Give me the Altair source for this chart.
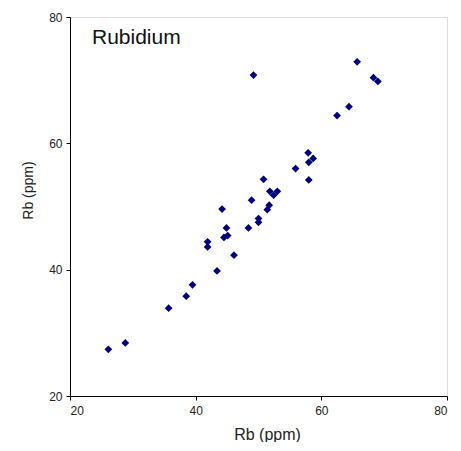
import altair as alt
import pandas as pd

x_vals = [26.1, 28.8, 35.7, 38.5, 39.5, 43.4, 46.1, 41.9, 41.9, 44.5, 45.1, 44.9,
          44.2, 48.4, 50.0, 50.0, 51.4, 51.7, 48.9, 50.8, 51.8, 52.4, 53.0, 55.9,
          57.9, 58.0, 58.7, 58.0, 65.7, 68.3, 69.0, 64.4, 62.5, 49.2]
y_vals = [27.4, 28.4, 33.9, 35.8, 37.6, 39.8, 42.3, 44.4, 43.6, 45.1, 45.4, 46.6,
          49.6, 46.6, 48.1, 47.5, 49.5, 50.2, 51.0, 54.3, 52.4, 51.8, 52.4, 56.0,
          58.5, 57.0, 57.6, 54.2, 72.9, 70.4, 69.8, 65.8, 64.4, 70.8]
ticks = [20, 40, 60, 80]

df = pd.DataFrame({"x": x_vals, "y": y_vals})

FONT = "Liberation Sans"

axis_common = dict(
    values=ticks, grid=False, domainColor="#000000", tickColor="#000000",
    tickSize=4, labelFont=FONT, labelFontSize=12, labelColor="#222222",
    titleFont=FONT, titleFontWeight="normal", titleColor="#222222",
    titleAlign="center", titleBaseline="middle",
)

points = alt.Chart(df).mark_point(
    shape="diamond", filled=True, size=60, color="#000080", opacity=1
).encode(
    x=alt.X("x:Q", scale=alt.Scale(domain=[20, 80], nice=False),
            axis=alt.Axis(title="Rb (ppm)", labelPadding=5, titleFontSize=16,
                          titleX=197, titleY=38, **axis_common)),
    y=alt.Y("y:Q", scale=alt.Scale(domain=[20, 80], nice=False),
            axis=alt.Axis(title="Rb (ppm)", labelPadding=4, titleFontSize=14,
                          titleX=-42, titleY=173, **axis_common)),
)

label = alt.Chart(pd.DataFrame({"t": ["Rubidium"]})).mark_text(
    align="left", baseline="alphabetic", font=FONT, fontSize=21, color="#111111"
).encode(x=alt.value(22), y=alt.value(27), text="t:N")

stray = alt.Chart(pd.DataFrame({"t": ["5"]})).mark_text(
    align="right", baseline="middle", font=FONT, fontSize=12, color="#222222"
).encode(x=alt.value(-66), y=alt.value(396), text="t:N")

chart = alt.layer(points, label, stray).properties(
    width=377, height=379,
    autosize=alt.AutoSizeParams(type="none"),
    padding={"left": 62, "top": 9, "right": 6, "bottom": 46},
).configure_view(stroke="#000000", strokeWidth=1).configure(background="white")

chart.save("out.html", embed_options={"renderer": "svg", "actions": False})
